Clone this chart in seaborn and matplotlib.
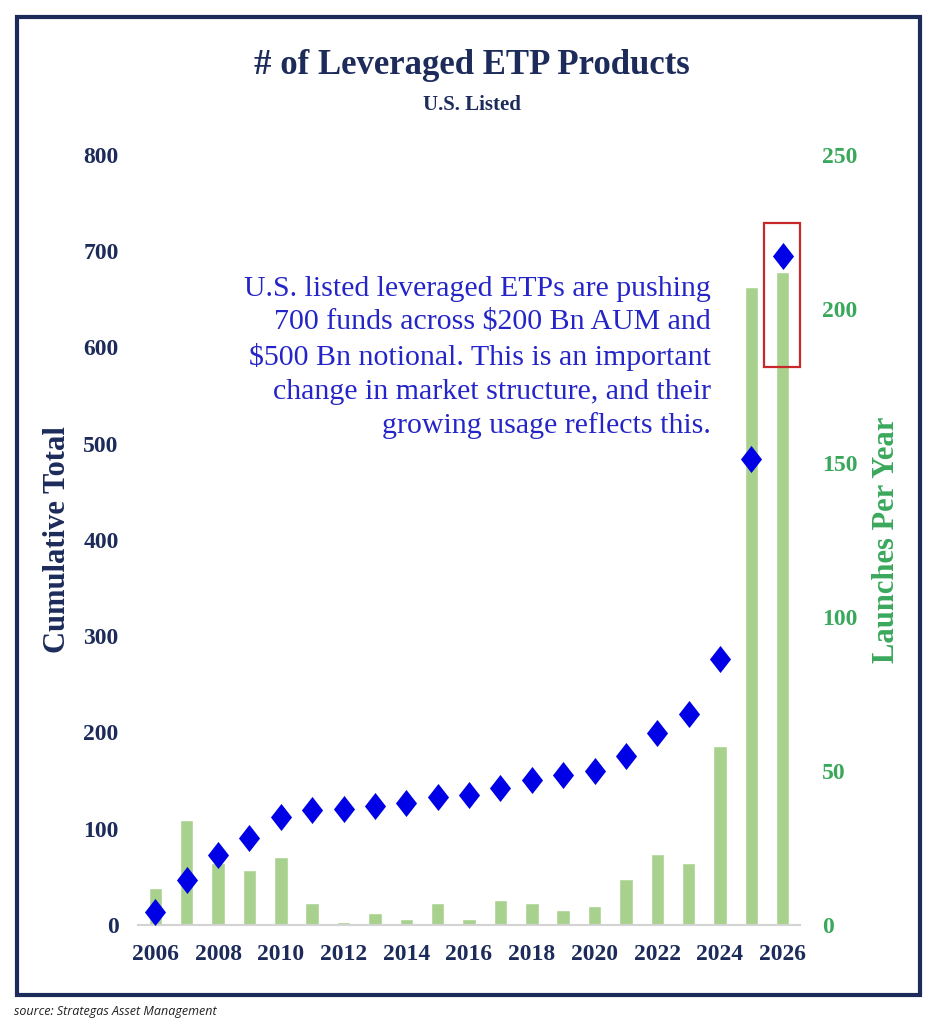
import matplotlib.pyplot as plt
import seaborn as sns
from matplotlib.patches import Rectangle
from matplotlib.path import Path

sns.set_style("white")
plt.rcParams['font.family'] = ['Liberation Serif', 'DejaVu Serif']

years = list(range(2006, 2027))
cumulative = [13, 47, 73, 90, 112, 119, 120, 124, 127, 133, 135,
              142, 151, 156, 160, 176, 199, 219, 276, 484, 695]
launches = [12, 34, 20, 18, 22, 7, 1, 4, 2, 7, 2,
            8, 7, 5, 6, 15, 23, 20, 58, 207, 212]
left_ticks = [0, 100, 200, 300, 400, 500, 600, 700, 800]
right_ticks = [0, 50, 100, 150, 200, 250]
year_ticks = list(range(2006, 2027, 2))

navy = "#1c2b5a"
green = "#3aa85c"
bar_green = "#a9d18e"
blue = "#0000e6"

fig = plt.figure(figsize=(9.27, 10.24), dpi=100)
ax = fig.add_axes([0.149, 0.0967, 0.714, 0.752])
ax2 = ax.twinx()

# bars on the right axis, drawn underneath the diamonds
sns.barplot(x=years, y=launches, native_scale=True, width=0.43, color=bar_green,
            saturation=1, errorbar=None, ax=ax2)
diamond = Path([(0, 1), (0.78, 0), (0, -1), (-0.78, 0), (0, 1)])
sns.scatterplot(x=years, y=cumulative, marker=diamond, s=380, color=blue,
                linewidth=0, ax=ax, zorder=5)

ax.set_zorder(2)
ax2.set_zorder(1)
ax.patch.set_visible(False)

ax.set_xlim(2005.45, 2026.55)
ax2.set_xlim(2005.45, 2026.55)
ax.set_ylim(0, 800)
ax2.set_ylim(0, 250)
ax.set_xticks(year_ticks)
ax.set_yticks(left_ticks)
ax2.set_yticks(right_ticks)

for a in (ax, ax2):
    for s in a.spines.values():
        s.set_visible(False)
ax.spines['bottom'].set_visible(True)
ax.spines['bottom'].set_color("#d3d3d3")
ax.spines['bottom'].set_linewidth(1.5)

ax.tick_params(axis='x', length=0, pad=14, labelsize=17, labelcolor=navy)
ax.tick_params(axis='y', length=0, pad=14, labelsize=17, labelcolor=navy)
ax2.tick_params(axis='y', length=0, pad=16, labelsize=17, labelcolor=green)
for lab in ax.get_xticklabels() + ax.get_yticklabels() + ax2.get_yticklabels():
    lab.set_fontweight('bold')

ax.set_xlabel("")
ax.set_ylabel("Cumulative Total", fontsize=22, fontweight='bold', color=navy, labelpad=8)
ax2.set_ylabel("Launches Per Year", fontsize=22, fontweight='bold', color=green, labelpad=10)

ax.text(2023.7, 674,
        "U.S. listed leveraged ETPs are pushing\n700 funds across \\$200 Bn AUM and\n"
        "\\$500 Bn notional. This is an important\nchange in market structure, and their\n"
        "growing usage reflects this.",
        ha='right', va='top', multialignment='right', fontsize=21.5, color="#2424c8",
        linespacing=1.36)

ax2.add_patch(Rectangle((2025.4, 181), 1.14, 47, fill=False, edgecolor="#c8282a",
                        linewidth=1.6, clip_on=False, zorder=10))

fig.text(0.509, 0.936, "# of Leveraged ETP Products", ha='center', va='center',
         fontsize=25, fontweight='bold', color=navy)
fig.text(0.509, 0.897, "U.S. Listed", ha='center', va='center',
         fontsize=15, fontweight='bold', color=navy)

fig.patches.append(Rectangle((0.018, 0.028), 0.974, 0.955, transform=fig.transFigure,
                             fill=False, edgecolor=navy, linewidth=3))
fig.text(0.015, 0.012, "source: Strategas Asset Management", ha='left', va='center',
         fontsize=9, style='italic', color="#222222", family=['Open Sans', 'DejaVu Sans'])

fig.savefig("out.png", dpi=100)
